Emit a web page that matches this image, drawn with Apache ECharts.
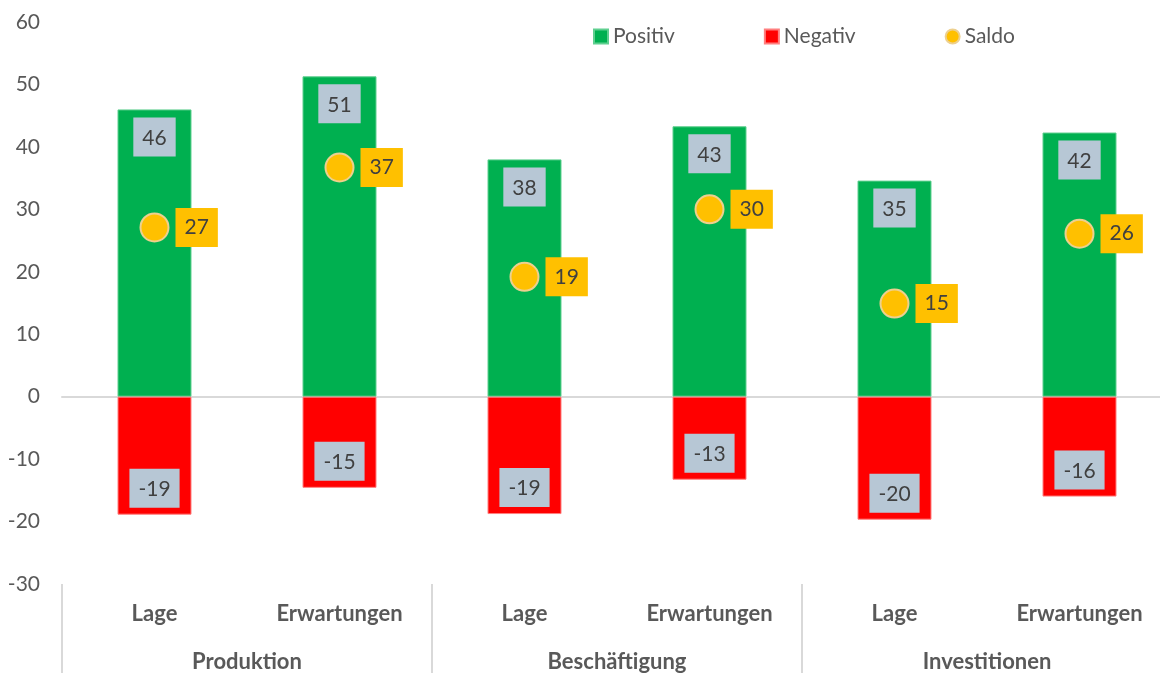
<!DOCTYPE html>
<html>
<head>
<meta charset="utf-8">
<script src="https://cdn.jsdelivr.net/npm/echarts@6/dist/echarts.min.js"></script>
<style>
  html, body { margin: 0; padding: 0; background: #fff; }
  #chart { width: 1160px; height: 673px; }
</style>
</head>
<body>
<div id="chart"></div>
<script>
// Kategorien
const items = ['Lage', 'Erwartungen', 'Lage', 'Erwartungen', 'Lage', 'Erwartungen'];
const groups = ['Produktion', 'Beschäftigung', 'Investitionen'];

// Werte
const positiv = [46, 51.3, 38, 43.3, 34.6, 42.3];
const negativ = [-18.9, -14.6, -18.8, -13.3, -19.7, -16.0];
const saldo = [27.1, 36.7, 19.2, 30.0, 14.9, 26.1];

const textColor = '#595959';
const font = 'Lato, "Open Sans", sans-serif';

const boxLabel = (bg) => ({
    show: true,
    color: '#404040',
    fontSize: 21,
    fontFamily: font,
    backgroundColor: bg,
    padding: [10, 9, 8, 9],
    formatter: p => Math.round(p.value),
});

const chart = echarts.init(document.getElementById('chart'), null, { renderer: 'canvas' });
chart.setOption({
    animation: false,
    textStyle: { fontFamily: font },
    legend: {
        left: 588,
        top: 21,
        itemWidth: 14,
        itemHeight: 14,
        itemGap: 89,
        textStyle: { color: textColor, fontSize: 21, fontFamily: font },
        data: [
            { name: 'Positiv', icon: 'rect' },
            { name: 'Negativ', icon: 'rect' },
            { name: 'Saldo', icon: 'circle' },
        ],
    },
    grid: { left: 62, width: 1110, top: 22, bottom: 89, outerBoundsMode: 'none' },
    xAxis: [
        {
            type: 'category',
            data: items,
            position: 'bottom',
            axisLine: { show: false, onZero: false },
            axisTick: { show: false },
            axisLabel: { color: textColor, fontSize: 22, fontWeight: 'bold', margin: 19, interval: 0, fontFamily: font },
        },
        {
            type: 'category',
            data: groups,
            position: 'bottom',
            axisLine: { show: false, onZero: false },
            axisTick: { show: true, length: 89, lineStyle: { color: '#D9D9D9', width: 2 } },
            axisLabel: { color: textColor, fontSize: 22, fontWeight: 'bold', margin: 67, fontFamily: font },
        },
        {
            type: 'category',
            data: items,
            position: 'bottom',
            axisLine: { show: true, onZero: true, lineStyle: { color: '#D9D9D9', width: 2 } },
            axisTick: { show: false },
            axisLabel: { show: false },
        },
    ],
    yAxis: {
        type: 'value',
        min: -30,
        max: 60,
        interval: 10,
        axisLine: { show: false },
        axisTick: { show: false },
        splitLine: { show: false },
        axisLabel: { color: textColor, fontSize: 21, margin: 22, fontFamily: font },
    },
    series: [
        {
            name: 'Positiv',
            type: 'bar',
            stack: 'x',
            data: positiv,
            barWidth: 74,
            itemStyle: { color: '#00B050', borderColor: '#5fcf8f', borderWidth: 1 },
            label: { ...boxLabel('#B7C7D5'), position: 'insideTop', distance: 8 },
            z: 2,
        },
        {
            name: 'Negativ',
            type: 'bar',
            stack: 'x',
            data: negativ,
            barWidth: 74,
            itemStyle: { color: '#FF0000', borderColor: '#ff7f7f', borderWidth: 1 },
            label: { ...boxLabel('#B7C7D5'), position: 'insideBottom', distance: 7 },
            z: 2,
        },
        {
            name: 'Saldo',
            type: 'scatter',
            data: saldo,
            symbolSize: 28,
            itemStyle: { color: '#FFC000', borderColor: '#EDD08F', borderWidth: 2, opacity: 1 },
            label: { ...boxLabel('#FFC000'), position: 'right', distance: 6 },
            z: 5,
        },
    ],
});
</script>
</body>
</html>
